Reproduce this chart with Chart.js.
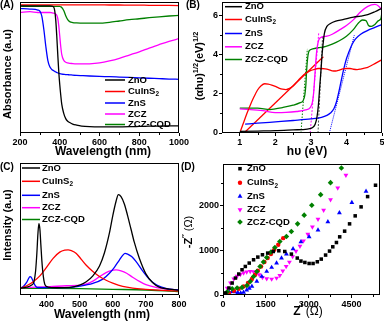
<!DOCTYPE html>
<html>
<head>
<meta charset="utf-8">
<script src="https://cdn.jsdelivr.net/npm/chart.js@4.4.1/dist/chart.umd.min.js"></script>
<style>
  html, body { margin: 0; padding: 0; background: #fff; }
  #wrap { position: relative; width: 384px; height: 324px; overflow: hidden; }
  #wrap canvas { position: absolute; left: 0; top: 0; }
  .tag { position: absolute; font: bold 10px 'Liberation Sans', Arial, sans-serif; line-height: 1; color: #000; }
</style>
</head>
<body>
<div id="wrap">
  <canvas id="chartA" width="384" height="324"></canvas>
  <canvas id="chartB" width="384" height="324"></canvas>
  <canvas id="chartC" width="384" height="324"></canvas>
  <canvas id="chartD" width="384" height="324"></canvas>
  <div class="tag" style="left:0;top:0">(A)</div>
  <div class="tag" style="left:186px;top:0">(B)</div>
  <div class="tag" style="left:0;top:162px">(C)</div>
  <div class="tag" style="left:181px;top:162px">(D)</div>
</div>
<script>
// ---------- data ----------
const seriesNames = ['ZnO', 'CuInS2', 'ZnS', 'ZCZ', 'ZCZ-CQD'];

// (A) absorbance, arbitrary units (0 = frame bottom, 100 = frame top)
const absWavelength = [200, 250, 290, 300, 310, 320, 330, 340, 350, 360, 370, 375, 380, 385, 390, 395, 400, 405,
  410, 420, 430, 440, 450, 465, 485, 510, 550, 600, 650, 700, 750, 800, 850, 900, 950, 1000];
const absZnO = [97, 97, 97, 97, 97, 97, 97, 97, 97, 96.9, 96, 93, 86, 74, 60, 47, 37, 29,
  22, 15, 11, 9, 8, 6.8, 6, 5.3, 4.8, 4.6, 4.6, 4.7, 4.8, 5, 5.2, 5.3, 5.4, 5.5];
const absCuInS2 = [97.8, 97.8, 97.8, 97.8, 97.8, 97.8, 97.8, 97.8, 97.8, 97.8, 97.8, 97.8, 97.8, 97.8, 97.8, 97.8, 97.8, 97.8,
  97.8, 97.8, 97.8, 97.8, 97.8, 97.8, 97.8, 97.8, 97.8, 97.8, 97.7, 97.7, 97.6, 97.6, 97.5, 97.5, 97.4, 97.3];
const absZnS = [95, 94.6, 93.8, 93, 89, 79, 66, 55.5, 50.5, 48.5, 47.5, 47, 46.6, 46.2, 45.9, 45.6, 45.4, 45.2,
  45, 44.8, 44.6, 44.5, 44.4, 44.2, 44, 43.8, 43.5, 43.2, 43, 42.7, 42.4, 42.1, 41.8, 41.5, 41.2, 41];
const absZCZ = [92, 92.6, 92, 92, 92, 92, 92, 92, 92, 91.8, 91.5, 91.2, 90.7, 89.8, 87.5, 82, 74, 66,
  60, 55.5, 54, 53.5, 53.2, 53, 52.8, 52.7, 52.8, 53.5, 55, 57, 59.5, 62, 64.8, 67.5, 70, 72];
const absCQD = [96.8, 96.7, 96.6, 96.6, 96.6, 96.6, 96.6, 96.6, 96.6, 96.6, 96.6, 96.6, 96.6, 96.6, 96.6, 96.6, 96.6, 96.3,
  95.8, 93.5, 89.5, 86.5, 85, 84.3, 84, 83.9, 83.8, 83.8, 84.5, 85.5, 86.5, 87.2, 88, 88.7, 89.3, 89.8];

// (B) Tauc plot, hv (eV) vs (ahv)^1/2
const taucZnOX = [1.0, 1.5, 2.0, 2.5, 2.9, 3.05, 3.12, 3.17, 3.21, 3.25, 3.28, 3.31, 3.34, 3.38, 3.45, 3.55, 3.7, 3.9, 4.2, 4.4, 4.6, 4.8, 5.0];
const taucZnOY = [0.08, 0.1, 0.12, 0.16, 0.2, 0.28, 0.45, 0.8, 1.4, 2.4, 3.1, 3.9, 4.5, 5.1, 5.45, 5.6, 5.72, 5.8, 5.93, 5.98, 6.05, 6.2, 6.38];
const taucCuInS2X = [1.02, 1.1, 1.2, 1.3, 1.4, 1.5, 1.6, 1.7, 1.8, 1.9, 2.0, 2.1, 2.2, 2.3, 2.4, 2.5, 2.6, 2.7, 2.8, 2.9, 3.0,
  3.1, 3.2, 3.3, 3.4, 3.5, 3.6, 3.7, 3.8, 3.9, 4.0, 4.1, 4.2, 4.3, 4.4, 4.5, 4.6, 4.7, 4.8, 4.9, 5.0];
const taucCuInS2Y = [0.1, 0.5, 1.0, 1.45, 1.85, 2.2, 2.42, 2.52, 2.5, 2.45, 2.38, 2.3, 2.24, 2.22, 2.28, 2.4, 2.6, 2.8, 2.98, 3.1, 3.2,
  3.26, 3.3, 3.3, 3.28, 3.24, 3.18, 3.17, 3.22, 3.28, 3.3, 3.3, 3.26, 3.24, 3.27, 3.32, 3.36, 3.45, 3.55, 3.65, 3.75];
const taucZnSX = [1.15, 1.5, 2.0, 2.5, 3.0, 3.3, 3.45, 3.55, 3.65, 3.72, 3.78, 3.85, 3.92, 4.0, 4.06, 4.15, 4.25, 4.4, 4.6, 4.8, 5.0];
const taucZnSY = [0.45, 0.5, 0.57, 0.64, 0.72, 0.8, 0.9, 1.02, 1.25, 1.6, 2.05, 2.65, 3.24, 3.8, 4.1, 4.5, 4.8, 5.05, 5.25, 5.4, 5.55];
const taucZCZX = [1.0, 1.3, 1.65, 2.0, 2.3, 2.6, 2.85, 2.98, 3.04, 3.08, 3.11, 3.14, 3.17, 3.22, 3.3, 3.45, 3.6, 3.83, 4.0, 4.2, 4.4, 4.6, 4.8, 4.9, 5.0];
const taucZCZY = [1.23, 1.2, 1.14, 1.04, 1.05, 1.1, 1.18, 1.3, 1.55, 2.1, 2.9, 3.7, 4.3, 4.75, 4.9, 4.95, 5.05, 5.3, 5.5, 5.8, 6.2, 6.48, 6.58, 6.5, 6.3];
const taucCQDX = [1.0, 1.5, 1.85, 2.2, 2.5, 2.7, 2.78, 2.83, 2.86, 2.88, 2.91, 2.95, 3.05, 3.2, 3.4, 3.6, 3.8, 4.0, 4.2, 4.35,
  4.45, 4.55, 4.62, 4.7, 4.8, 4.9, 4.97, 5.0];
const taucCQDY = [1.27, 1.27, 1.2, 1.3, 1.42, 1.55, 1.65, 1.95, 2.5, 3.2, 3.85, 4.2, 4.3, 4.36, 4.42, 4.55, 4.72, 4.95, 5.3, 5.65,
  5.78, 5.75, 5.5, 5.45, 5.55, 5.75, 5.85, 6.2];
// band-gap extrapolation lines
const fitCuInS2X = [1.12, 3.35], fitCuInS2Y = [0, 3.9];
const fitCQDX = [2.72, 2.9], fitCQDY = [0, 4.3];
const fitZCZX = [2.98, 3.22], fitZCZY = [0, 5.1];
const fitZnOX = [3.2, 3.33], fitZnOY = [0, 5.0];
const fitZnSX = [3.52, 4.22], fitZnSY = [0, 5.0];

// (C) photoluminescence, arbitrary units
const plZnOX = [320, 340, 355, 362, 367, 371, 374, 377, 380, 383, 386, 390, 395, 405, 430, 470, 500, 520, 540, 560, 575, 590,
  600, 610, 617, 625, 635, 645, 655, 665, 680, 700, 720, 740, 770, 800];
const plZnOY = [5.1, 6, 7.5, 10, 18, 32, 46, 54, 50, 38, 26, 15, 8, 6, 5.5, 5.7, 7.4, 10, 14.5, 22, 32, 47,
  60, 71, 76, 74.5, 69, 60, 50, 40, 28, 16, 9.5, 6, 4.5, 3.7];
const plCuInS2X = [320, 340, 360, 380, 400, 420, 440, 455, 465, 475, 490, 505, 520, 540, 560, 580, 600, 630, 660, 700, 750, 800];
const plCuInS2Y = [5.1, 7, 10.1, 14.5, 21, 27.8, 32.5, 34, 34.2, 33.6, 31.5, 27, 22.5, 17.8, 14, 11.2, 9, 6.5, 5.2, 4.3, 3.5, 3];
const plZnSX = [320, 330, 340, 345, 350, 355, 360, 365, 372, 400, 460, 500, 540, 570, 590, 605, 620, 630, 637, 645, 657, 670,
  692, 710, 733, 760, 800];
const plZnSY = [5.1, 6.5, 9.5, 12, 13.9, 13, 10.1, 7.5, 5.7, 5.6, 5.6, 6.7, 8.8, 12, 16.5, 21, 26.5, 30, 31.6, 31, 29.1, 25.5,
  17.7, 12, 7.6, 5, 3.8];
const plZCZX = [320, 410, 460, 510, 540, 560, 580, 595, 610, 625, 642, 660, 682, 700, 733, 760, 800];
const plZCZY = [5.6, 6.3, 7, 7.6, 10.5, 13.9, 17, 18.5, 19, 18.3, 16.5, 13.5, 10.1, 7.8, 5.6, 4.5, 3.8];
const plCQDX = [320, 400, 500, 600, 700, 760, 800];
const plCQDY = [5.1, 5, 4.8, 4.3, 3.8, 3.2, 2.5];

// (D) Nyquist plot, Z' and -Z'' in ohm
const eisZnOX = [90, 207, 321, 436, 553, 667, 782, 919, 1071, 1220, 1382, 1566, 1762, 1956, 2163, 2395, 2602, 2730, 2868,
  3017, 3155, 3304, 3442, 3594, 3732, 3846, 3974, 4088, 4261, 4434, 4631, 4838, 5066, 5343];
const eisZnOY = [45, 156, 268, 379, 469, 565, 638, 714, 788, 848, 900, 937, 973, 989, 973, 915, 826, 759, 728,
  705, 705, 743, 803, 893, 982, 1078, 1174, 1301, 1428, 1591, 1770, 1971, 2201, 2455];
const eisCuInS2X = [69, 207, 380, 553, 726, 874, 1013, 1127, 1220, 1334, 1451, 1566, 1680, 1797, 1935, 2108];
const eisCuInS2Y = [7, 45, 96, 141, 192, 268, 357, 453, 542, 638, 737, 826, 915, 1011, 1123, 1272];
const eisZnSX = [35, 120, 220, 320, 420, 520, 620, 720, 830, 920, 1013, 1185, 1358, 1531, 1704, 1877, 2049, 2222, 2454,
  2730, 3017, 3328, 3674, 4078, 4514, 5011];
const eisZnSY = [7, 40, 65, 75, 70, 55, 45, 60, 110, 150, 192, 304, 415, 527, 616, 714, 826, 915, 1033,
  1190, 1301, 1451, 1636, 1837, 2067, 2321];
const eisZCZX = [35, 149, 263, 380, 494, 608, 720, 830, 954, 1070, 1180, 1270, 1382, 1531, 1704, 1877, 1990, 2094, 2212,
  2326, 2440, 2557, 2696, 2820, 2972, 3132, 3328, 3525, 3767, 4019, 4306];
const eisZCZY = [7, 156, 268, 360, 420, 460, 495, 515, 527, 520, 490, 453, 393, 364, 357, 379, 440, 540, 640,
  737, 860, 982, 1094, 1212, 1362, 1524, 1696, 1897, 2134, 2395, 2678];
const eisCQDX = [35, 149, 321, 494, 667, 840, 954, 1071, 1185, 1299, 1417, 1531, 1680, 1818, 1991, 2222, 2395, 2613,
  2844, 3110, 3421, 3767, 4147];
const eisCQDY = [7, 74, 141, 156, 170, 214, 304, 415, 527, 638, 737, 839, 960, 1062, 1197, 1308, 1420, 1591,
  1786, 2009, 2245, 2513, 2841];

// tick labels
const absTicks = [200, 400, 600, 800, 1000], absMinor = [300, 500, 700, 900];
const taucTicksX = [1, 2, 3, 4, 5], taucMinorX = [1.5, 2.5, 3.5, 4.5];
const taucTicksY = [0, 2, 4, 6], taucMinorY = [1, 3, 5];
const plTicks = [400, 500, 600, 700, 800], plMinor = [350, 450, 550, 650, 750];
const eisTicksX = [0, 1500, 3000, 4500], eisMinorX = [750, 2250, 3750, 5250];
const eisTicksY = [0, 1000, 2000], eisMinorY = [500, 1500, 2500];

// ---------- styles ----------
const FONT = "'Liberation Sans', Arial, sans-serif";
const seriesColors = ['#000000', '#ff0000', '#0000ff', '#ff00ff', '#008000'];
const markerStyles = ['rect', 'circle', 'triangle', 'triangle', 'rectRot'];
const markerRotation = [0, 0, 0, 180, 0];
const markerRadius = [2.5, 2.2, 2.8, 2.8, 2.8];

Chart.defaults.font.family = FONT;
Chart.defaults.color = '#000';

const pts = (xs, ys) => xs.map((x, i) => ({ x, y: ys[i] }));
const txt = t => ({ t });
const sup = t => ({ t, sup: true });
const sub = t => ({ t, sub: true });
const plain = t => ({ t, plain: true });

function nameParts(name) {
  const m = name.match(/^(.*\D)(\d)$/);
  return m ? [txt(m[1]), sub(m[2])] : [txt(name)];
}

// draws text made of bold / plain / super / subscript pieces
function drawRich(ctx, parts, x, y, size, opts = {}) {
  ctx.save();
  ctx.translate(x, y);
  if (opts.rotate) ctx.rotate(-Math.PI / 2);
  const fontFor = p => `${p.plain ? 'normal' : 'bold'} ${(p.sup || p.sub) ? size * 0.68 : size}px ${FONT}`;
  let total = 0;
  const widths = parts.map(p => { ctx.font = fontFor(p); const w = ctx.measureText(p.t).width; total += w; return w; });
  let cx = opts.left ? 0 : -total / 2;
  ctx.textBaseline = 'middle';
  ctx.fillStyle = '#000';
  parts.forEach((p, i) => {
    ctx.font = fontFor(p);
    const dy = p.sup ? -size * 0.38 : p.sub ? size * 0.32 : 0;
    ctx.fillText(p.t, cx, dy);
    cx += widths[i];
  });
  ctx.restore();
}

// frame, minor ticks, axis titles and legend of one panel
function decorPlugin(cfg) {
  return {
    id: 'decor',
    afterDatasetsDraw(chart) {
      const { ctx, chartArea: a, scales } = chart;
      const l = Math.round(a.left) + 0.5, r = Math.round(a.right) - 0.5;
      const t = Math.round(a.top) + 0.5, b = Math.round(a.bottom) - 0.5;
      ctx.save();
      ctx.strokeStyle = '#000';
      ctx.lineWidth = 1;
      ctx.strokeRect(l, t, r - l, b - t);
      ctx.beginPath();
      (cfg.minorX || []).forEach(v => {
        const px = Math.round(scales.x.getPixelForValue(v)) + 0.5;
        ctx.moveTo(px, b); ctx.lineTo(px, b + 2.5);
      });
      (cfg.minorY || []).forEach(v => {
        const py = Math.round(scales.y.getPixelForValue(v)) + 0.5;
        ctx.moveTo(l, py); ctx.lineTo(l - 2.5, py);
      });
      ctx.stroke();
      ctx.restore();

      drawRich(ctx, cfg.xTitle.parts, cfg.xTitle.x, cfg.xTitle.y, 12);
      drawRich(ctx, cfg.yTitle.parts, cfg.yTitle.x, cfg.yTitle.y, 11, { rotate: true });

      const lg = cfg.legend;
      lg.rows.forEach((y, i) => {
        const ds = chart.data.datasets[i];
        ctx.save();
        ctx.fillStyle = seriesColors[i];
        ctx.strokeStyle = seriesColors[i];
        if (lg.marker) {
          Chart.helpers.drawPoint(ctx, {
            pointStyle: markerStyles[i], rotation: markerRotation[i], radius: markerRadius[i], borderWidth: 0
          }, lg.x0, y);
        } else {
          ctx.lineWidth = 1.5;
          ctx.beginPath();
          ctx.moveTo(lg.x0, y); ctx.lineTo(lg.x1, y);
          ctx.stroke();
        }
        ctx.restore();
        drawRich(ctx, nameParts(ds.label), lg.tx, y, 9.5, { left: true });
      });
    }
  };
}

function axis(min, max, tickValues, size, horizontal) {
  return {
    type: 'linear', min, max,
    afterBuildTicks: s => { s.ticks = tickValues.map(v => ({ value: v })); },
    afterFit: s => {
      if (horizontal) { s.height = size; s.paddingLeft = 0; s.paddingRight = 0; }
      else { s.width = size; s.paddingTop = 0; s.paddingBottom = 0; }
    },
    grid: { drawOnChartArea: false, tickLength: 3, color: '#000', lineWidth: 1 },
    border: { display: false },
    ticks: { padding: 1, color: '#000', font: { size: 9, weight: 'bold' }, maxRotation: 0, autoSkip: false, callback: v => String(v) }
  };
}

const hiddenAxis = (min, max) => ({ type: 'linear', min, max, display: false });

function makePanel(id, box, xScale, yScale, datasets, decor, type) {
  const [L, T, R, B] = box;
  const xH = 20;
  const yW = yScale.display === false ? 0 : 30;
  return new Chart(document.getElementById(id), {
    type: type || 'line',
    data: { datasets },
    options: {
      responsive: false,
      animation: false,
      devicePixelRatio: 1,
      events: [],
      layout: { padding: { left: L - yW, top: T, right: 384 - R, bottom: 324 - B - xH } },
      plugins: { legend: { display: false }, tooltip: { enabled: false } },
      scales: { x: xScale, y: yScale }
    },
    plugins: [decorPlugin(decor)]
  });
}

function curve(i, xs, ys) {
  return {
    label: seriesNames[i], data: pts(xs, ys), borderColor: seriesColors[i], borderWidth: 1.3,
    pointRadius: 0, cubicInterpolationMode: 'monotone', fill: false
  };
}

function guide(color, xs, ys, dash) {
  return { label: '', data: pts(xs, ys), borderColor: color, borderWidth: dash ? 1 : 1.3, borderDash: dash || [], pointRadius: 0, fill: false };
}

function markers(i, xs, ys, order) {
  return {
    label: seriesNames[i], data: pts(xs, ys), showLine: false, order,
    pointStyle: markerStyles[i], pointRotation: markerRotation[i], pointRadius: markerRadius[i],
    pointBackgroundColor: seriesColors[i], pointBorderColor: seriesColors[i], pointBorderWidth: 0
  };
}

// (A)
makePanel('chartA', [20, 2, 179, 133],
  axis(200, 1000, absTicks, 20, true), hiddenAxis(0, 100),
  [
    curve(0, absWavelength, absZnO),
    curve(1, absWavelength, absCuInS2),
    curve(2, absWavelength, absZnS),
    curve(3, absWavelength, absZCZ),
    curve(4, absWavelength, absCQD)
  ],
  {
    minorX: absMinor,
    xTitle: { parts: [txt('Wavelength (nm)')], x: 103, y: 152 },
    yTitle: { parts: [txt('Absorbance (a.u)')], x: 8, y: 74 },
    legend: { rows: [80, 91.5, 103, 114, 124.5], x0: 105, x1: 125, tx: 128 }
  });

// (B)
makePanel('chartB', [222, 2, 382, 133],
  axis(0.5, 5, taucTicksX, 20, true), axis(0, 6.7, taucTicksY, 30, false),
  [
    curve(0, taucZnOX, taucZnOY),
    curve(1, taucCuInS2X, taucCuInS2Y),
    curve(2, taucZnSX, taucZnSY),
    curve(3, taucZCZX, taucZCZY),
    curve(4, taucCQDX, taucCQDY),
    guide(seriesColors[1], fitCuInS2X, fitCuInS2Y),
    guide(seriesColors[4], fitCQDX, fitCQDY, [1.5, 1.5]),
    guide(seriesColors[3], fitZCZX, fitZCZY, [2, 1.5]),
    guide('#555555', fitZnOX, fitZnOY, [2, 1.5]),
    guide(seriesColors[2], fitZnSX, fitZnSY, [1, 1])
  ],
  {
    minorX: taucMinorX, minorY: taucMinorY,
    xTitle: { parts: [txt('hυ (eV)')], x: 307, y: 152 },
    yTitle: { parts: [txt('(αhυ)'), sup('1/2'), txt('(eV)'), sup('1/2')], x: 200, y: 66 },
    legend: { rows: [6.7, 19.5, 33.5, 46.8, 59.5], x0: 225, x1: 242, tx: 245 }
  });

// (C)
makePanel('chartC', [20, 163, 179, 295],
  axis(320, 800, plTicks, 20, true), hiddenAxis(0, 100),
  [
    curve(0, plZnOX, plZnOY),
    curve(1, plCuInS2X, plCuInS2Y),
    curve(2, plZnSX, plZnSY),
    curve(3, plZCZX, plZCZY),
    curve(4, plCQDX, plCQDY)
  ],
  {
    minorX: plMinor,
    xTitle: { parts: [txt('Wavelength (nm)')], x: 102, y: 315 },
    yTitle: { parts: [txt('Intensity (a.u)')], x: 8, y: 225 },
    legend: { rows: [168, 181.3, 195.3, 207.7, 219.5], x0: 22, x1: 40, tx: 42 }
  });

// (D)
makePanel('chartD', [223, 164, 382, 295],
  axis(0, 5500, eisTicksX, 20, true), axis(0, 2930, eisTicksY, 30, false),
  [
    markers(0, eisZnOX, eisZnOY, 0),
    markers(1, eisCuInS2X, eisCuInS2Y, 2),
    markers(2, eisZnSX, eisZnSY, 2),
    markers(3, eisZCZX, eisZCZY, 2),
    markers(4, eisCQDX, eisCQDY, 1)
  ],
  {
    minorX: eisMinorX, minorY: eisMinorY,
    xTitle: { parts: [txt('Z'), sup('\u2032'), plain(' (\u03A9)')], x: 308, y: 312 },
    yTitle: { parts: [txt('-Z'), sup('\u2032\u2032'), plain(' (\u03A9)')], x: 189, y: 232 },
    legend: { rows: [168.7, 182.7, 196.3, 209.7, 222], x0: 240, tx: 247, marker: true }
  }, 'scatter');
</script>
</body>
</html>
